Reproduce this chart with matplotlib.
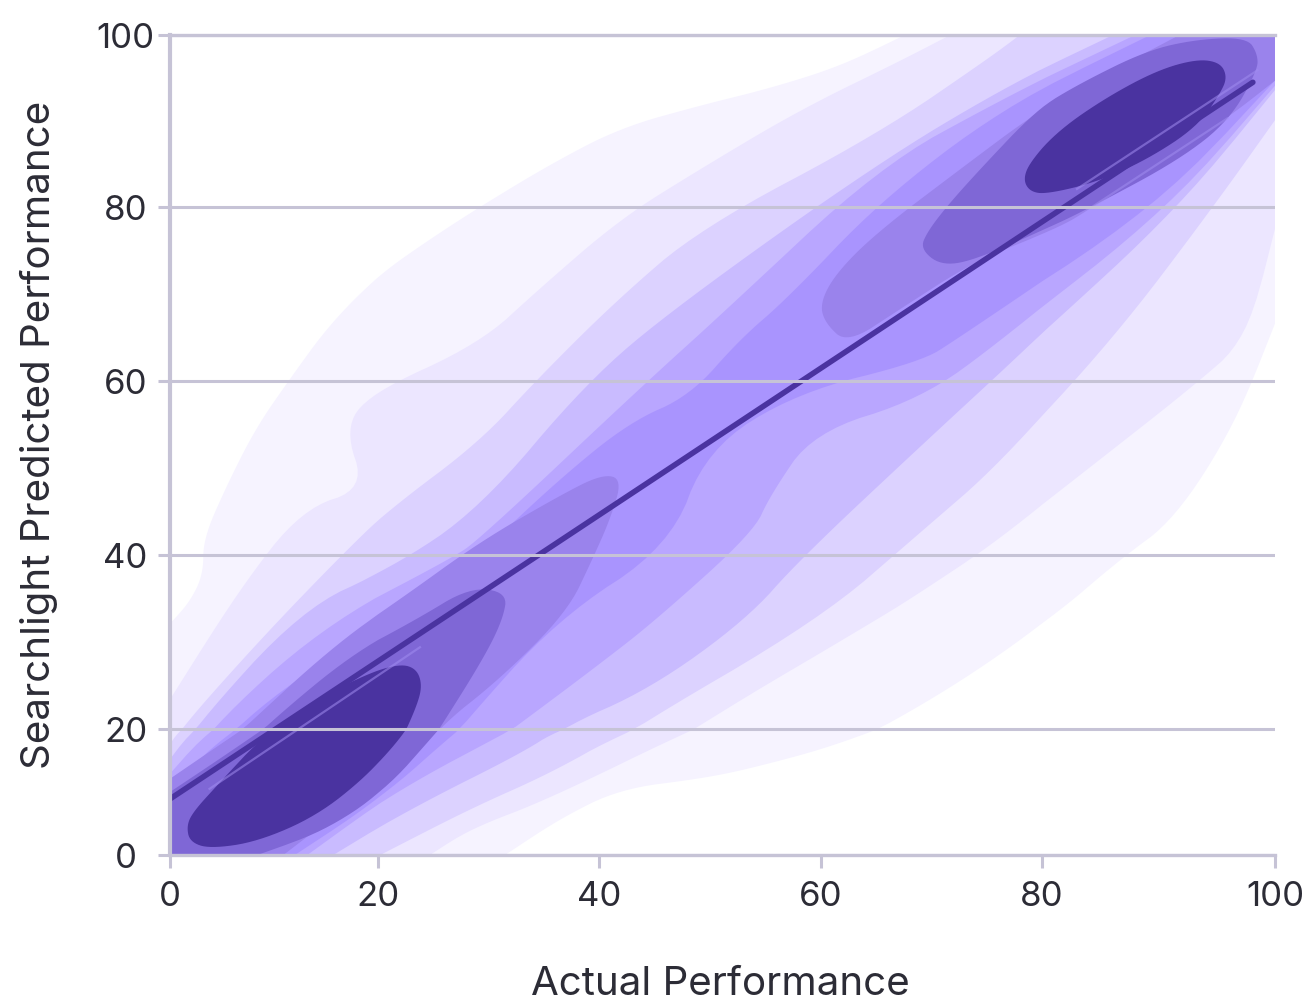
import numpy as np
import matplotlib
matplotlib.use("Agg")
import matplotlib.pyplot as plt

plt.rcParams['font.family'] = ['Inter', 'DejaVu Sans']

tick_values = [0, 20, 40, 60, 80, 100]
x_label = "Actual Performance"
y_label = "Searchlight Predicted Performance"

# the axis of the source is not evenly spaced, tick spacing in pixels
x_tick_spots = [0, 208, 429, 651, 872, 1105]
y_tick_spots = [0, 126, 300, 474, 648, 820]

fit_x = [0, 98.1]
fit_y = [8.9, 94.5]

# pale streaks running next to the fit line
streak_low_x = [3.8, 23.8]
streak_low_y = [10.5, 29.4]
streak_high_x = [83, 98.5]
streak_high_y = [82.1, 95.9]
streak_under_x = [84.4, 95.9]
streak_under_y = [80.1, 90.3]

# density bands, outer to inner as (actual, predicted)
band0 = [(0,32.1),(1.9,34.6),(3.2,37.8),(3.2,41.8),(5.3,47.6),(8.2,54.5),(11.5,60.2),(15.4,66.6),(20.2,72.3),
         (24.7,76.3),(29.2,80),(35.5,84.9),(41.9,89.2),(49.1,91.8),(55.4,93.8),(61.8,96.4),(67.6,100),(100,100),
         (100,66.6),(96.6,55.1),(91.4,44.1),(86.7,39.5),(80.7,32.6),(71.7,24.6),(61.8,17.6),(53.6,13.7),(49.1,12.1),
         (41.9,10.5),(36.4,5.7),(31.5,0),(0,0)]
band1 = [(0,23.4),(6.7,36.1),(12.7,45.3),(18.8,47.6),(16.8,54.5),(19.2,58.5),(29.2,64.3),(34.6,70.6),(41.9,78.6),
         (49.1,84.4),(58.1,91.3),(67.2,97),(71.7,100),(100,100),(100,77.5),(97.6,64.8),(92.7,59.1),(85,51),
         (76.2,41.8),(69,35.7),(65.1,32.6),(49.1,20.6),(35.5,8.9),(28.3,4.1),(24.7,0),(0,0)]
band2 = [(0,17.6),(1,20),(8.7,30.3),(16.1,39.5),(21.1,45.3),(29.2,53),(34.4,60.2),(41.7,69.4),(49.1,77.5),
         (65.3,88.6),(75.3,97.4),(78,100),(100,100),(100,90.1),(94.7,80),(86.1,64.8),(76.2,50.5),(69,42.6),
         (59.9,32.6),(41.9,19.2),(35.5,12.9),(28.3,7.3),(20.2,0),(0,0)]
band3 = [(0,15.2),(2.2,20),(12.7,33.8),(21.1,38.4),(29.2,45.3),(38.9,59.9),(47,68.6),(65.3,85.2),(76.2,93.6),
         (86.1,100),(100,100),(100,93.6),(91.8,80),(79.5,64.8),(69,52.5),(58.1,39.5),(53.3,32.6),(44.6,24.6),
         (36.4,20),(32.8,16),(23.8,8.1),(15.7,0),(0,0)]
band4 = [(0,12.9),(3.8,20),(14.4,31.5),(26.5,39.5),(29.2,41.8),(44.3,59.9),(50.9,67.5),(65.3,84.7),(76.2,92.4),
         (88,100),(100,100),(100,94.1),(91,80),(76.5,64.8),(69,57.9),(59.3,54.1),(55.4,46.8),(53.9,42.6),
         (45.2,32.6),(40.1,27.5),(32.2,20),(22,10.5),(13.2,0),(0,0)]
band5 = [(0,10.5),(5.8,20),(16.3,29.2),(29.2,40.1),(36.4,48.7),(42.8,55.3),(48.2,58.3),(52.7,64.8),(56.9,69.4),
         (65.3,80.6),(76.2,91.3),(89.3,100),(100,100),(100,94.7),(89.9,80),(72.3,64.8),(69,62.2),(57.9,58.7),
         (49.7,52.2),(46.4,41),(36.2,32.6),(27.3,20),(20.2,8.9),(12,0),(0,0)]
band6_low = [(0,12.1),(7,20),(15.4,29.2),(22,34.9),(29.2,41.5),(36.4,46.8),(40.3,49.3),(42.1,48.7),(41,44.1),
             (39.4,39.5),(37.1,33.4),(31,25.7),(25.3,20),(19.2,10.5),(10.9,0),(0,0)]
band6_high = [(62.4,64.3),(60.4,66.6),(59.9,68.9),(61.3,72.3),(64.9,76.9),(72.6,84.4),(79.8,91.3),(87.6,97),
              (91.8,100),(100,100),(100,94.7),(95.9,90.3),(84.4,80),(81.3,77.5),(73.8,73.7),(67.2,68.3)]
band7_low = [(31.7,35.7),(28.3,36.3),(23.5,32.6),(17.3,28.4),(10.3,21.5),(5,15.5),(0,10),(0,0),
             (8.4,0),(14.7,3.7),(20.5,10),(25.3,19.5),(29.5,28),(31.3,32.6)]
band7_high = [(69,75.2),(69.6,77.1),(71.4,80.1),(74.4,84.4),(79.5,91.3),(83.3,94.4),(89,98.2),(93.3,99.5),
              (97.6,99.7),(98.5,97.8),(98.5,95.9),(96.1,90.1),(91.8,85.5),(84.4,80.1),(80.4,77.5),(73.7,73.8),(70.8,73.3)]
band8_low = [(1.6,4.6),(2.2,6.8),(4.5,11),(9.3,19.5),(14.1,23.4),(18.9,26.3),(22,27.5),(23.5,26.9),(24,25),
             (23.5,22.6),(22,18.4),(18.9,12.5),(14.1,6.2),(8.4,2.1),(3.8,1),(1.9,2.1)]
band8_high = [(78.3,83.2),(78.9,85.2),(81.5,89),(85.6,92.8),(89.9,95.9),(93.3,97.2),(95.3,96.8),(95.9,95.1),
              (95.3,93.2),(93.3,89.3),(89,85.5),(84.7,82.9),(80.4,81.5),(78.9,81.8)]

bands = [(band0, "#f6f3ff"), (band1, "#ece6ff"), (band2, "#dcd2ff"), (band3, "#c9bbff"), (band4, "#b9a6ff"),
         (band5, "#a994fe"), (band6_low, "#9a83ec"), (band6_high, "#9a83ec"), (band7_low, "#7f67d6"),
         (band7_high, "#7f67d6"), (band8_low, "#4a33a0"), (band8_high, "#4a33a0")]


def rounded(band, rounds=3):
    # corner cutting, points lying on the frame stay where they are
    pts = list(band)
    for _ in range(rounds):
        new = []
        n = len(pts)
        for i in range(n):
            x, y = pts[i]
            if x in (0, 100) or y in (0, 100):
                new.append((x, y))
                continue
            px, py = pts[i - 1]
            nx, ny = pts[(i + 1) % n]
            new.append((x + (px - x) / 4, y + (py - y) / 4))
            new.append((x + (nx - x) / 4, y + (ny - y) / 4))
        pts = new
    return pts


fig = plt.figure(figsize=(13.06, 10.03), dpi=100)
ax = fig.add_axes([170 / 1306, (1003 - 856) / 1003, 1105 / 1306, 820 / 1003])

ax.set_xscale('function', functions=(lambda v: np.interp(v, tick_values, x_tick_spots),
                                     lambda p: np.interp(p, x_tick_spots, tick_values)))
ax.set_yscale('function', functions=(lambda v: np.interp(v, tick_values, y_tick_spots),
                                     lambda p: np.interp(p, y_tick_spots, tick_values)))

for band, color in bands:
    pts = rounded(band)
    ax.fill([p[0] for p in pts], [p[1] for p in pts], color=color, lw=0, zorder=1)

for sx, sy in [(streak_low_x, streak_low_y), (streak_high_x, streak_high_y), (streak_under_x, streak_under_y)]:
    ax.plot(sx, sy, color="#a08cf0", lw=1.6, alpha=0.55, zorder=1.5)

ax.plot(fit_x, fit_y, color="#4a33a0", lw=4, solid_capstyle='round', zorder=2)

ax.set_xlim(0, 100)
ax.set_ylim(0, 100)
ax.set_xticks(tick_values)
ax.set_yticks(tick_values)

grid_color = "#c6c3d6"
text_color = "#2c2c36"
ax.set_axisbelow(False)
ax.grid(axis='y', color=grid_color, lw=2.2)
for name in ['left', 'bottom', 'top']:
    ax.spines[name].set_color(grid_color)
    ax.spines[name].set_linewidth(2.4)
ax.spines['left'].set_linewidth(3)
ax.spines['right'].set_visible(False)

ax.tick_params(axis='y', length=9, width=2.2, color=grid_color, labelcolor=text_color, labelsize=25, pad=23)
ax.tick_params(axis='x', length=9, width=2.2, color=grid_color, labelcolor=text_color, labelsize=25, pad=9)
for label in ax.get_yticklabels():
    label.set_ha('center')

ax.set_xlabel(x_label, fontsize=29, color=text_color)
ax.set_ylabel(y_label, fontsize=29, color=text_color)
ax.xaxis.set_label_coords(0.498, -0.157)
ax.yaxis.set_label_coords(-0.119, 0.513)
ax.xaxis.label.set_va('center')
ax.yaxis.label.set_va('center')

fig.savefig("out.png", dpi=100)
